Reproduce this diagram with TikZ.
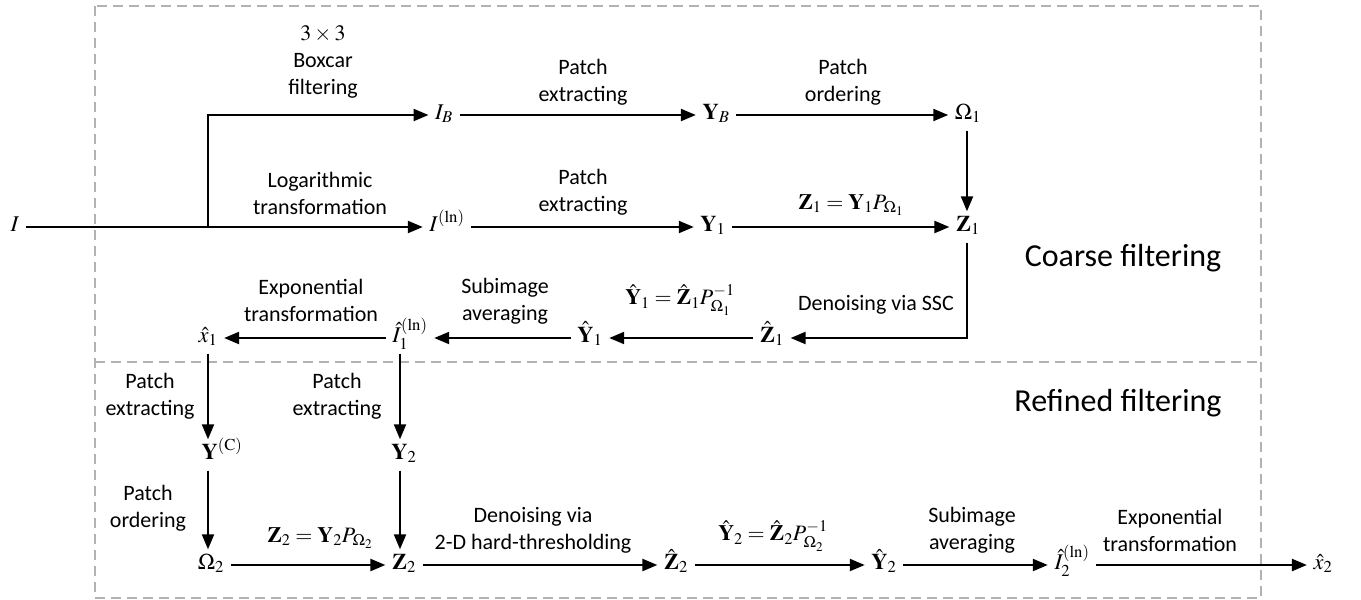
\documentclass[tikz,border=0pt]{standalone}
\usepackage{amsmath}
\usepackage{mathptmx}
\usepackage[no-math]{fontspec}
\setmainfont{Carlito}
\usetikzlibrary{arrows.meta}
\tikzset{%
  flow/.style={line width=2.2pt, -{Triangle[length=15pt,width=12pt]}},
  sym/.style={inner sep=6.5pt, text height=13pt, text depth=5pt, font=\fontsize{22.5}{26}\selectfont},
  lbl/.style={align=center, inner sep=0pt, font=\fontsize{22}{27}\selectfont},
  stagename/.style={inner sep=0pt, font=\fontsize{32}{36}\selectfont},
  region/.style={draw=gray!60, line width=1.2pt, dash pattern=on 10pt off 6pt}
}

\begin{document}
\begin{tikzpicture}[x=1pt,y=-1pt]
	\useasboundingbox (0,0) rectangle (1361,600);
	% stages
	\draw[region] (95,6) rectangle (1261,598);
	\draw[region] (95,362) -- (1261,362);
	\node[stagename] (coarse) at (1123,258) {Coarse filtering};
	\node[stagename] (refined) at (1118,403) {Refined filtering};
	% symbols
	\node[sym] (I) at (15,227) {$I$};
	\node[sym] (IB) at (444,115) {$I_B$};
	\node[sym] (Iln) at (447,227) {$I^{(\ln)}$};
	\node[sym] (YB) at (716,115) {$\mathbf{Y}_B$};
	\node[sym] (Y1) at (713,227) {$\mathbf{Y}_1$};
	\node[sym] (Om1) at (968,115) {$\Omega_1$};
	\node[sym] (Z1) at (968,227) {$\mathbf{Z}_1$};
	\node[sym] (Zh1) at (772,338) {$\hat{\mathbf{Z}}_1$};
	\node[sym] (Yh1) at (590,338) {$\hat{\mathbf{Y}}_1$};
	\node[sym] (Ih1) at (410,338) {$\hat{I}_1^{(\ln)}$};
	\node[sym] (xh1) at (208,338) {$\hat{x}_1$};
	\node[sym] (YC) at (222,455) {$\mathbf{Y}^{(\mathrm{C})}$};
	\node[sym] (Y2) at (404,455) {$\mathbf{Y}_2$};
	\node[sym] (Om2) at (211,565) {$\Omega_2$};
	\node[sym] (Z2) at (404,565) {$\mathbf{Z}_2$};
	\node[sym] (Zh2) at (676,565) {$\hat{\mathbf{Z}}_2$};
	\node[sym] (Yh2) at (884,565) {$\hat{\mathbf{Y}}_2$};
	\node[sym] (Ih2) at (1072,565) {$\hat{I}_2^{(\ln)}$};
	\node[sym] (xh2) at (1323,565) {$\hat{x}_2$};
	\coordinate (br) at (208,227);
	\coordinate (colA) at (208,0);
	\coordinate (colB) at (400,0);
	\coordinate (colC) at (967,0);
	% coarse stage
	\draw[flow] (I) -- (Iln);
	\draw[flow] (br) |- (IB);
	\draw[flow] (IB) -- (YB);
	\draw[flow] (YB) -- (Om1);
	\draw[flow] (Iln) -- (Y1);
	\draw[flow] (Y1) -- (Z1);
	\draw[flow] (Om1.south -| colC) -- (Z1.north -| colC);
	\draw[flow] (Z1.south -| colC) |- (Zh1);
	\draw[flow] (Zh1) -- (Yh1);
	\draw[flow] (Yh1) -- (Ih1);
	\draw[flow] (Ih1) -- (xh1);
	% refined stage
	\draw[flow] (xh1.south -| colA) -- (YC.north -| colA);
	\draw[flow] (YC.south -| colA) -- (Om2.north -| colA);
	\draw[flow] (Ih1.south -| colB) -- (Y2.north -| colB);
	\draw[flow] (Y2.south -| colB) -- (Z2.north -| colB);
	\draw[flow] (Om2) -- (Z2);
	\draw[flow] (Z2) -- (Zh2);
	\draw[flow] (Zh2) -- (Yh2);
	\draw[flow] (Yh2) -- (Ih2);
	\draw[flow] (Ih2) -- (xh2);
	% labels
	\node[lbl] (tBox) at (323,62) {$3\times 3$\\Boxcar\\filtering};
	\node[lbl] (tLog) at (320,193) {Logarithmic\\transformation};
	\node[lbl] (tExtB) at (583,82) {Patch\\extracting};
	\node[lbl] (tOrdB) at (843,82) {Patch\\ordering};
	\node[lbl] (tExt1) at (583,192) {Patch\\extracting};
	\node[lbl] (tZ1) at (851,205) {$\mathbf{Z}_1=\mathbf{Y}_1P_{\Omega_1}$};
	\node[lbl] (tSSC) at (876,305) {Denoising via SSC};
	\node[lbl] (tYh1) at (680,300) {$\hat{\mathbf{Y}}_1=\hat{\mathbf{Z}}_1P_{\Omega_1}^{-1}$};
	\node[lbl] (tAvg1) at (505,301) {Subimage\\averaging};
	\node[lbl] (tExp1) at (311,300) {Exponential\\transformation};
	\node[lbl] (tExtC) at (150,396) {Patch\\extracting};
	\node[lbl] (tExt2) at (337,396) {Patch\\extracting};
	\node[lbl] (tOrd2) at (148,508) {Patch\\ordering};
	\node[lbl] (tZ2) at (320,538) {$\mathbf{Z}_2=\mathbf{Y}_2P_{\Omega_2}$};
	\node[lbl] (tHard) at (533,530) {Denoising via\\2-D hard-thresholding};
	\node[lbl] (tYh2) at (773,536) {$\hat{\mathbf{Y}}_2=\hat{\mathbf{Z}}_2P_{\Omega_2}^{-1}$};
	\node[lbl] (tAvg2) at (972,530) {Subimage\\averaging};
	\node[lbl] (tExp2) at (1170,530) {Exponential\\transformation};
\end{tikzpicture}
\end{document}
